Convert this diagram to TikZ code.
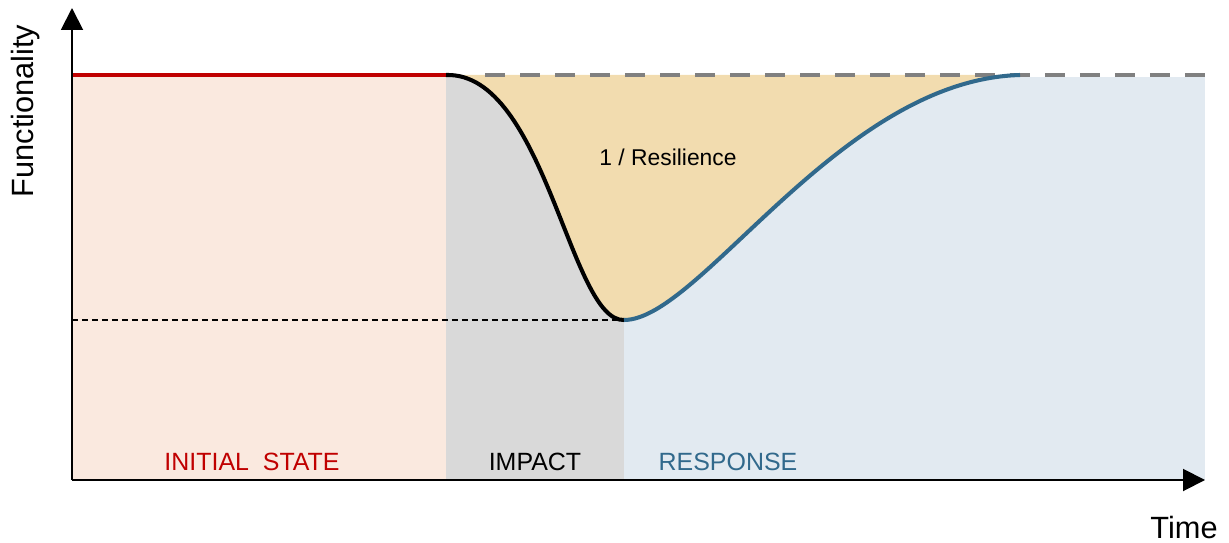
\documentclass[tikz,border=0pt]{standalone}
\usepackage{fontspec}
\setmainfont{Liberation Sans}
\usetikzlibrary{arrows.meta}

\definecolor{initfill}{HTML}{FAE9DF}
\definecolor{impactfill}{HTML}{D9D9D9}
\definecolor{responsefill}{HTML}{E2EAF1}
\definecolor{lossfill}{HTML}{F2DCAF}
\definecolor{initred}{HTML}{C00000}
\definecolor{responseblue}{HTML}{31698C}
\definecolor{targetgray}{HTML}{808080}

\begin{document}
\begin{tikzpicture}[x=0.02cm,y=-0.02cm,>={Triangle[length=0.44cm,width=0.44cm]},
  axis/.style={line width=1.1pt,->},
  curve/.style={line width=2.3pt},
  phase label/.style={font=\fontsize{14.2pt}{17pt}\selectfont},
  axis label/.style={font=\fontsize{17.5pt}{21pt}\selectfont}]

  \useasboundingbox (0,0) rectangle (1229,543);

  \coordinate (O) at (72,480);
  \coordinate (ytip) at (72,8);
  \coordinate (xtip) at (1205,480);
  \coordinate (drop) at (446,75);
  \coordinate (low) at (624,320);
  \coordinate (back) at (1020,75);
  \coordinate (lowaxis) at (72,320);
  \coordinate (levelstart) at (485,75);
  \coordinate (levelend) at (1205,75);

  %phase backgrounds
  \fill[initfill] (72,77) rectangle (446,480);
  \fill[impactfill] (446,75) rectangle (624,480);
  \fill[responsefill] (624,77) rectangle (1205,480);

  %lost functionality between the curve and the target level
  \fill[lossfill] (drop) .. controls (545,72) and (570,322) .. (low)
    .. controls (700,320) and (840,80) .. (back) -- cycle;

  %lowest functionality level
  \draw[dashed,line width=0.8pt,dash pattern=on 0.12cm off 0.08cm] (lowaxis) -- (low);

  \draw[curve,initred] (72,75) -- (drop);
  \draw[line width=2.8pt,targetgray,dash pattern=on 0.4cm off 0.3cm] (levelstart) -- (levelend);
  \draw[curve,black] (drop) .. controls (545,72) and (570,322) .. (low);
  \draw[curve,responseblue] (low) .. controls (700,320) and (840,80) .. (back);

  %axes
  \draw[axis] (O) -- (ytip);
  \draw[axis] (O) -- (xtip);

  \node[phase label,text=initred] (init) at (252,462) {INITIAL\ \ STATE};
  \node[phase label] (impact) at (535,462) {IMPACT};
  \node[phase label,text=responseblue] (response) at (728,462) {RESPONSE};
  \node[font=\fontsize{13pt}{16pt}\selectfont] (res) at (668,157) {1 / Resilience};

  \node[axis label,rotate=90] (func) at (26,111) {Functionality};
  \node[axis label] (time) at (1184,528) {Time};

\end{tikzpicture}
\end{document}
